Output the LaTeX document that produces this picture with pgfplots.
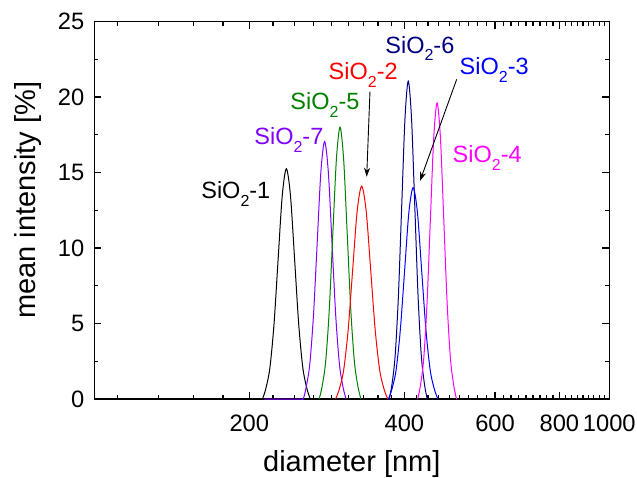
\documentclass[border=0pt]{standalone}
\usepackage{pgfplots}
\pgfplotsset{compat=1.18}
\usetikzlibrary{arrows.meta}
\usepackage{fontspec}
\setmainfont{Liberation Sans}

\definecolor{violetO}{RGB}{128,0,255}
\definecolor{greenO}{RGB}{0,128,0}
\definecolor{navyO}{RGB}{0,0,128}
\definecolor{magentaO}{RGB}{255,0,255}

% SiO2 with an Origin-style lowered subscript
\newcommand{\sio}{SiO\raisebox{-0.33em}{\fontsize{8}{8}\selectfont 2}}

\begin{document}
\begin{tikzpicture}
\begin{axis}[
  scale only axis,
  width=257.5pt, height=188.75pt,
  xmode=log, xmin=100, xmax=1000,
  ymin=0, ymax=25,
  xtick={200,400,600,800,1000},
  xticklabels={200,400,600,800,1000},
  minor xtick={111.11,133.33,155.56,177.78,222.22,244.44,266.67,288.89,311.11,333.33,355.56,377.78,422.22,444.44,466.67,488.89,511.11,533.33,555.56,577.78,622.22,644.44,666.67,688.89,711.11,733.33,755.56,777.78,822.22,844.44,866.67,888.89,911.11,933.33,955.56,977.78},
  ytick={0,5,10,15,20,25},
  minor ytick={2.5,7.5,12.5,17.5,22.5},
  /pgf/number format/assume math mode=true,
  tick align=inside,
  major tick length=3.5pt, minor tick length=2pt,
  axis line style={line width=0.7pt},
  every tick/.style={line width=0.6pt, black},
  ticklabel style={font=\fontsize{11.85}{14}\selectfont},
  xticklabel style={yshift=-4.2pt},
  yticklabel style={xshift=-1.5pt},
  xlabel={diameter [nm]},
  ylabel={mean intensity [\%]},
  label style={font=\fontsize{14.5}{17}\selectfont},
  xlabel style={at={([yshift=-36pt]axis description cs:0.5,0)}, anchor=base},
  ylabel style={at={([xshift=-29.5pt,yshift=5pt]axis description cs:0,0.5)}, anchor=base},
  every axis plot/.append style={line width=0.5pt, smooth, tension=0.5, no markers},
  clip=false,
]
% SiO2-1
\addplot[black] coordinates {(212.08,0) (215.24,0.67) (219.24,2.06) (223.31,4.95) (227.46,9.25) (231.69,13.46) (236,15.25) (240.39,13.46) (244.86,9.25) (249.41,4.95) (254.05,2.06) (258.77,0.67) (262.61,0)};
% SiO2-7
\addplot[violetO] coordinates {(214,0) (250,0) (254.33,0) (257.73,0.75) (262.04,2.31) (266.41,5.54) (270.87,10.34) (275.40,15.05) (280,17.05) (284.68,15.05) (289.44,10.34) (294.28,5.54) (299.20,2.31) (304.20,0.75) (308.26,0)};
% SiO2-5
\addplot[greenO] coordinates {(273.22,0) (276.77,0.79) (281.27,2.44) (285.84,5.84) (290.48,10.92) (295.20,15.89) (300,18.0) (304.87,15.89) (309.83,10.92) (314.86,5.84) (319.98,2.44) (325.18,0.79) (329.40,0)};
% SiO2-2
\addplot[red] coordinates {(294.05,0) (298.83,0.62) (304.91,1.91) (311.12,4.58) (317.45,8.55) (323.91,12.44) (330.5,14.1) (337.23,12.44) (344.09,8.55) (351.09,4.58) (358.24,1.91) (365.53,0.62) (371.47,0)};
% SiO2-6
\addplot[navyO] coordinates {(373.91,0) (378.31,0.92) (383.88,2.85) (389.53,6.83) (395.27,12.77) (401.09,18.58) (407,21.05) (413.00,18.58) (419.08,12.77) (425.25,6.83) (431.51,2.85) (437.87,0.92) (443.02,0)};
% SiO2-3
\addplot[blue] coordinates {(372.35,0) (378.09,0.61) (385.39,1.89) (392.82,4.55) (400.40,8.49) (408.13,12.36) (416,14.0) (424.03,12.36) (432.21,8.49) (440.55,4.55) (449.05,1.89) (457.71,0.61) (464.76,0)};
% SiO2-4
\addplot[magentaO] coordinates {(424.51,0) (429.61,0.86) (436.09,2.65) (442.67,6.36) (449.34,11.89) (456.12,17.30) (463,19.6) (469.98,17.30) (477.07,11.89) (484.26,6.36) (491.57,2.65) (498.98,0.86) (504.99,0)};

% sample labels
\tikzset{lab/.style={anchor=base west, inner sep=0pt, font=\fontsize{11.75}{14}\selectfont}}
\node[lab, text=black]    at (axis cs:161.1,13.25) {\sio-1};
\node[lab, text=violetO]  at (axis cs:204.2,16.83) {\sio-7};
\node[lab, text=greenO]   at (axis cs:239.9,19.14) {\sio-5};
\node[lab, text=red]      at (axis cs:284.7,21.13) {\sio-2};
\node[lab, text=navyO]    at (axis cs:366.8,22.91) {\sio-6};
\node[lab, text=blue]     at (axis cs:511.3,21.46) {\sio-3};
\node[lab, text=magentaO] at (axis cs:495.6,15.63) {\sio-4};

% pointers to the overlapped peaks
\draw[-{Stealth[length=4.5pt,width=3pt]}, line width=0.45pt] (axis cs:343.0,20.35) -- (axis cs:338.0,14.72);
\draw[-{Stealth[length=4.5pt,width=3pt]}, line width=0.45pt] (axis cs:505.4,21.17) -- (axis cs:429.0,14.44);
\end{axis}
\pgfresetboundingbox
\path (current axis.south west) ++(-47.15pt,-39pt) rectangle ++(318.5pt,238.5pt);
\end{tikzpicture}
\end{document}
